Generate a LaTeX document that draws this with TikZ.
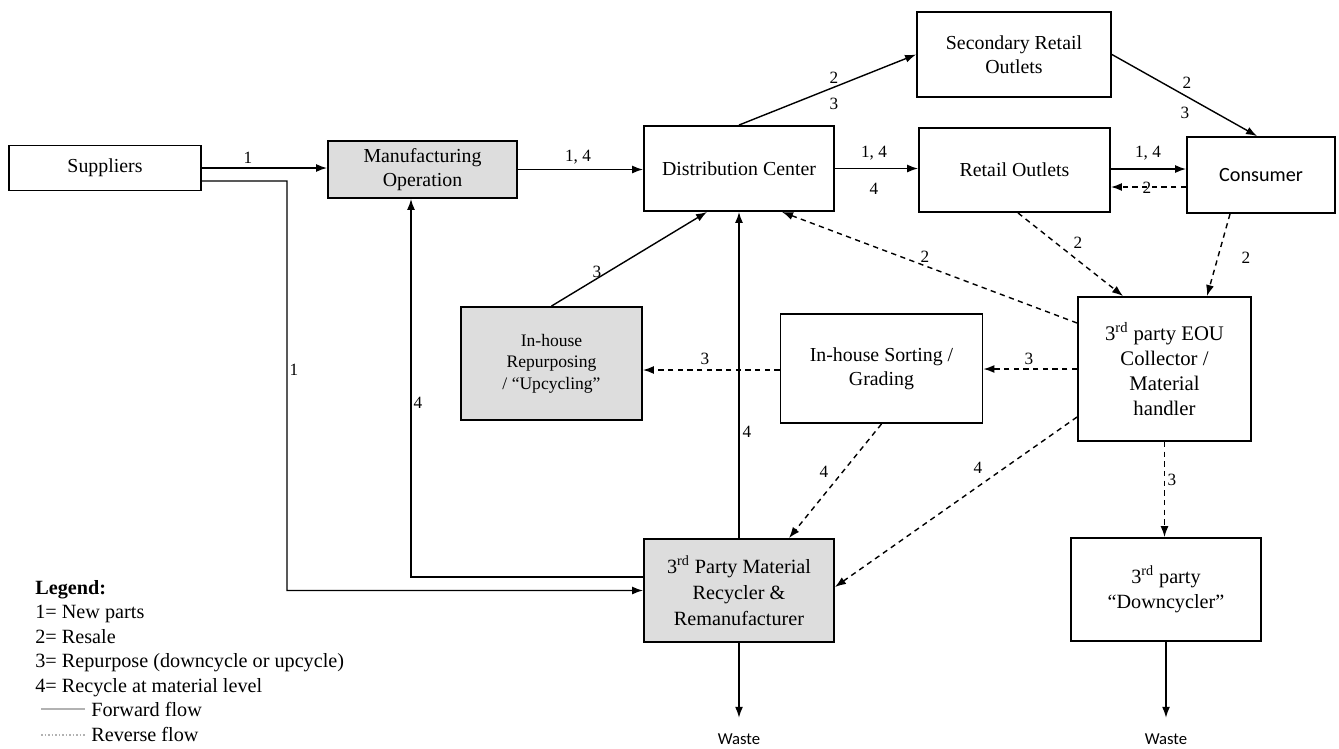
\documentclass[tikz,border=0pt]{standalone}
\usepackage{fontspec}
\setmainfont{Liberation Serif}
\newfontfamily\calfont{Carlito}
\usetikzlibrary{arrows.meta}

\begin{document}
\begin{tikzpicture}[x=0.02cm, y=-0.02cm,
      box/.style={draw, line width=1.1pt, align=center, inner sep=2pt, font=\fontsize{11.3}{13.5}\selectfont},
      grey/.style={box, fill=gray!27},
      lbl/.style={font=\fontsize{9.8}{11}\selectfont, inner sep=0pt},
      leg/.style={anchor=base west, inner sep=0pt, font=\fontsize{11.5}{14}\selectfont},
      waste/.style={font=\calfont\fontsize{9.5}{11}\selectfont, inner sep=0pt},
      fwd/.style={line width=0.8pt, -{Latex[length=2.2mm,width=1.6mm]}},
      rev/.style={fwd, dash pattern=on 3pt off 2.5pt}]

      \useasboundingbox (0,0) rectangle (1339,748);

      % boxes
      \node[box, minimum width=3.84cm, minimum height=0.9cm] (sup) at (105,168) {Suppliers};
      \node[grey, minimum width=3.78cm, minimum height=1.14cm] (man) at (422.5,169.5) {Manufacturing\\Operation};
      \node[box, minimum width=3.8cm, minimum height=1.7cm] (dc) at (739,168.5) {Distribution Center};
      \node[box, minimum width=3.88cm, minimum height=1.7cm] (sec) at (1014,54.5) {Secondary Retail\\Outlets};
      \node[box, minimum width=3.82cm, minimum height=1.68cm] (ret) at (1014.5,170) {Retail Outlets};
      \node[box, minimum width=2.96cm, minimum height=1.52cm, font=\calfont\fontsize{11.5}{13.5}\selectfont] (con) at (1261,175) {Consumer};
      \node[box, minimum width=3.46cm, minimum height=2.88cm, font=\fontsize{11.8}{14.2}\selectfont] (eou) at (1164.5,369) {3\textsuperscript{rd} party EOU\\Collector /\\Material\\handler};
      \node[box, minimum width=4.04cm, minimum height=2.18cm] (srt) at (881.5,368.5) {In-house Sorting /\\Grading};
      \node[grey, minimum width=3.62cm, minimum height=2.26cm, font=\fontsize{10}{12.3}\selectfont] (rep) at (551.5,363.5) {In-house\\Repurposing\\/ “Upcycling”};
      \node[grey, minimum width=3.8cm, minimum height=2.06cm, font=\fontsize{11.5}{14.8}\selectfont] (rec) at (739,590.5) {3\textsuperscript{rd} Party Material\\Recycler \&\\Remanufacturer};
      \node[box, minimum width=3.8cm, minimum height=2.06cm, font=\fontsize{11.5}{14.5}\selectfont] (dwn) at (1166,589.5) {3\textsuperscript{rd} party\\“Downcycler”};
      \node[waste] (wst1) at (739,739) {Waste};
      \node[waste] (wst2) at (1166,739) {Waste};

      % forward flow
      \draw[fwd] (sup.east) -- (sup.east -| man.west);
      \coordinate (bend) at (287,181);
      \draw[fwd] ([yshift=-0.26cm]sup.east) -- (bend) -- (bend |- rec.west) -- (rec.west);
      \draw[fwd] ([yshift=0.27cm]rec.west) -| ([xshift=-0.23cm]man.south);
      \draw[fwd] (man.east) -- (man.east -| dc.west);
      \draw[fwd] (dc.east) -- (dc.east -| ret.west);
      \draw[fwd] ([yshift=0.02cm]ret.east) -- ([yshift=0.02cm]ret.east -| con.west);
      \draw[fwd] (dc.north) -- (sec.west);
      \draw[fwd] (sec.east) -- ([xshift=-0.08cm]con.north);
      \draw[fwd] (rep.north) -- ([xshift=-0.64cm]dc.south);
      \draw[fwd] (rec.north) -- (dc.south);
      \draw[fwd] (rec.south) -- ([yshift=0.31cm]wst1.north);
      \draw[fwd] (dwn.south) -- ([yshift=0.31cm]wst2.north);

      % reverse flow
      \draw[rev] ([yshift=-0.24cm]con.west) -- ([yshift=-0.24cm]con.west -| ret.east);
      \draw[rev] ([xshift=0.07cm]ret.south) -- ([xshift=-0.83cm]eou.north);
      \draw[rev] ([xshift=-0.62cm]con.south) -- ([xshift=0.85cm]eou.north);
      \draw[rev] ([yshift=0.92cm]eou.west) -- ([xshift=0.86cm]dc.south);
      \draw[rev] (eou.west) -- (eou.west -| srt.east);
      \draw[rev] ([yshift=-0.03cm]srt.west) -- ([yshift=-0.03cm]srt.west -| rep.east);
      \draw[rev] (srt.south) -- ([xshift=1.0cm]rec.north);
      \draw[rev] ([yshift=-0.96cm]eou.west) -- ([yshift=0.07cm]rec.east);
      \draw[rev] (eou.south) -- (eou.south |- dwn.north);

      % flow numbers
      \node[lbl] (n1) at (248,158) {1};
      \node[lbl] (n2) at (294,370) {1};
      \node[lbl] (n3) at (578,157) {1, 4};
      \node[lbl] (n4) at (418,403) {4};
      \node[lbl] (n5) at (747,432) {4};
      \node[lbl] (n6) at (597,272) {3};
      \node[lbl] (n7) at (705,359) {3};
      \node[lbl] (n8) at (1029,359) {3};
      \node[lbl] (n9) at (834,78) {2};
      \node[lbl] (n10) at (834,104) {3};
      \node[lbl] (n11) at (874,153) {1, 4};
      \node[lbl] (n12) at (874,189) {4};
      \node[lbl] (n13) at (1148,153) {1, 4};
      \node[lbl] (n14) at (1147,188) {2};
      \node[lbl] (n15) at (1187,83) {2};
      \node[lbl] (n16) at (1185,113) {3};
      \node[lbl] (n17) at (1078,243) {2};
      \node[lbl] (n18) at (925,257) {2};
      \node[lbl] (n19) at (1246,258) {2};
      \node[lbl] (n20) at (824,472) {4};
      \node[lbl] (n21) at (978,468) {4};
      \node[lbl] (n22) at (1172,480) {3};

      % legend
      \node[leg, font=\bfseries\fontsize{11.5}{14}\selectfont] (lg0) at (35,594) {Legend:};
      \foreach \i/\t in {1/1= New parts, 2/2= Resale, 3/3= Repurpose (downcycle or upcycle), 4/4= Recycle at material level}
      \node[leg] (lg\i) at (35,594+24.5*\i) {\t};
      \node[leg] (lg5) at (91,716.5) {Forward flow};
      \node[leg] (lg6) at (91,741) {Reverse flow};
      \draw[gray!60, line width=0.6pt] ([xshift=-1cm, yshift=0.15cm]lg5.base west) -- ([xshift=-0.12cm, yshift=0.15cm]lg5.base west);
      \draw[gray!60, line width=0.6pt, dash pattern=on 1pt off 1pt] ([xshift=-1cm, yshift=0.12cm]lg6.base west) -- ([xshift=-0.12cm, yshift=0.12cm]lg6.base west);
    \end{tikzpicture}
\end{document}
